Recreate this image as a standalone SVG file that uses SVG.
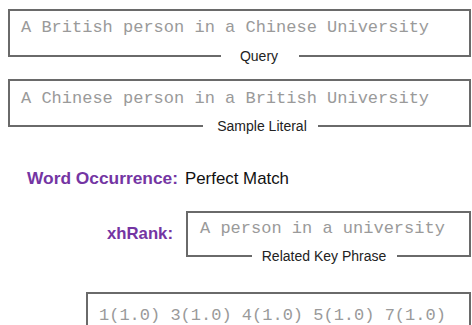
<svg xmlns="http://www.w3.org/2000/svg" width="472" height="325" viewBox="0 0 472 325">
<style>
.box{fill:none;stroke:#6a6a6a;stroke-width:2}
.mono{font-family:"Liberation Mono","Courier New",monospace;font-size:17px;fill:#9a9a9a}
.lbl{font-family:"Liberation Sans",Arial,sans-serif;font-size:14px;fill:#222;text-anchor:middle}
.key{font-family:"Liberation Sans",Arial,sans-serif;font-size:17px;font-weight:bold;fill:#7435a3}
.val{font-family:"Liberation Sans",Arial,sans-serif;font-size:17px;fill:#111}
</style>
<rect width="472" height="325" fill="#fff"/>
<g id="query">
<path class="box" d="M221,56 H9 V10 H470 V56 H299"/>
<text class="mono" x="21" y="32">A British person in a Chinese University</text>
<text class="lbl" x="259" y="61">Query</text>
</g>
<g id="sample-literal">
<path class="box" d="M203,126 H9 V80 H470 V126 H318"/>
<text class="mono" x="21" y="103">A Chinese person in a British University</text>
<text class="lbl" x="262" y="131">Sample Literal</text>
</g>
<g id="word-occurrence">
<text class="key" x="27" y="184" textLength="151" lengthAdjust="spacingAndGlyphs">Word Occurrence:</text>
<text class="val" x="185" y="184" textLength="104" lengthAdjust="spacingAndGlyphs">Perfect Match</text>
</g>
<g id="xhrank">
<text class="key" x="107" y="239" textLength="66" lengthAdjust="spacingAndGlyphs">xhRank:</text>
<path class="box" d="M252,256 H187 V212 H470 V256 H397"/>
<text class="mono" x="200" y="233">A person in a university</text>
<text class="lbl" x="324" y="261">Related Key Phrase</text>
</g>
<g id="result">
<path class="box" d="M87,326 V293 H470 V326"/>
<text class="mono" x="99" y="320">1(1.0) 3(1.0) 4(1.0) 5(1.0) 7(1.0)</text>
</g>
<g id="connectors"></g>
</svg>
